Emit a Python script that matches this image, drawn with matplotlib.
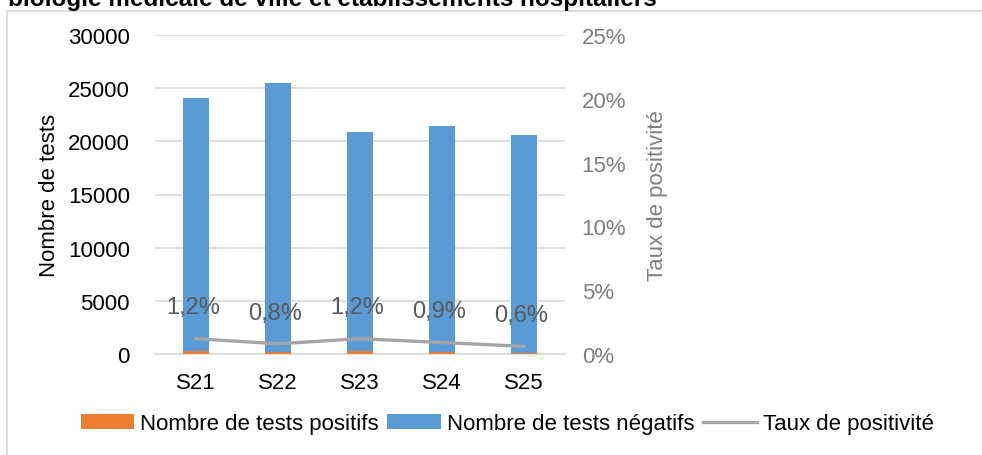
import matplotlib
matplotlib.use('Agg')
import matplotlib.pyplot as plt
import matplotlib.patches as mpatches
import matplotlib.ticker as mticker
import numpy as np

plt.rcParams['font.family'] = ['Liberation Sans', 'DejaVu Sans']

# data
semaines = ['S21', 'S22', 'S23', 'S24', 'S25']
tests_negatifs = [23760, 25300, 20600, 21210, 20430]
tests_positifs = [290, 205, 250, 190, 120]
taux_positivite = [1.2, 0.8, 1.2, 0.9, 0.6]
taux_labels = ['1,2%', '0,8%', '1,2%', '0,9%', '0,6%']
titre = 'biologie médicale de ville et établissements hospitaliers'

c_pos = '#ed7d31'
c_neg = '#5b9bd5'
c_line = '#a5a5a5'
c_grid = '#d9d9d9'
fs = 16

fig = plt.figure(figsize=(9.82, 4.56), dpi=100)
W, H = 982, 456

# outer chart frame, partly cut like the source
fig.patches.append(mpatches.Rectangle((7 / W, -0.1), 1.2, 1 - 12 / H + 0.1,
                                      transform=fig.transFigure, fill=False,
                                      edgecolor=c_grid, lw=1.2))
fig.text(8 / W, 1 - 6 / H, titre, fontsize=17.5, fontweight='bold', va='baseline')

ax = fig.add_axes([155 / W, 1 - 355 / H, 410 / W, 319 / H])
x = np.arange(len(semaines))
ax.bar(x, tests_positifs, 0.31, color=c_pos, label='Nombre de tests positifs', zorder=3)
ax.bar(x, tests_negatifs, 0.31, bottom=tests_positifs, color=c_neg,
       label='Nombre de tests négatifs', zorder=3)
ax.set_xlim(-0.5, len(semaines) - 0.5)
ax.set_ylim(0, 30000)
ax.set_yticks(range(0, 30001, 5000))
ax.grid(True, axis='y', color=c_grid, lw=1.2, zorder=0)
for s in ['top', 'right', 'left']:
    ax.spines[s].set_visible(False)
ax.spines['bottom'].set_color(c_grid)
ax.spines['bottom'].set_linewidth(1.2)
ax.set_xticks(x)
ax.set_xticklabels(semaines)
ax.tick_params(axis='both', length=0, labelsize=fs)
ax.tick_params(axis='y', pad=18)
ax.tick_params(axis='x', pad=13)
ax.set_ylabel('Nombre de tests', fontsize=fs, labelpad=5.5)

ax2 = ax.twinx()
ax2.plot(x, taux_positivite, color=c_line, lw=2.4, label='Taux de positivité', zorder=4)
ax2.set_ylim(0, 25)
ax2.yaxis.set_major_locator(mticker.MultipleLocator(5))
ax2.yaxis.set_major_formatter(mticker.FuncFormatter(lambda v, p: '%d%%' % v))
for s in ax2.spines.values():
    s.set_visible(False)
ax2.tick_params(axis='y', length=0, labelsize=fs, colors='#7f7f7f', pad=12)
ax2.set_ylabel('Taux de positivité', fontsize=fs, color='#7f7f7f', labelpad=15)
for xi, yi, lab in zip(x, taux_positivite, taux_labels):
    ax2.annotate(lab, (xi, yi), xytext=(-2, 22.5), textcoords='offset points',
                 ha='center', va='center', fontsize=fs + 1, color='#595959')

h1, l1 = ax.get_legend_handles_labels()
h2, l2 = ax2.get_legend_handles_labels()
fig.legend(h1 + h2, l1 + l2, loc='center', bbox_to_anchor=(507 / W, 1 - 425 / H),
           ncol=3, frameon=False, fontsize=fs, handlelength=2.4, handleheight=0.65,
           handletextpad=0.27, columnspacing=0.4, borderpad=0)

fig.savefig('out.png', dpi=100)
